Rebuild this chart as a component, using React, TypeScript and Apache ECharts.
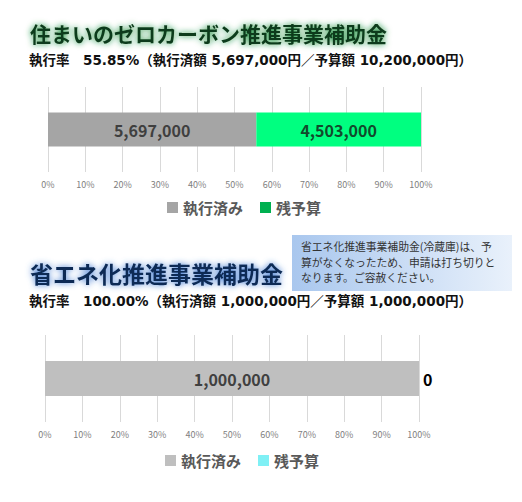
import React, { useEffect, useRef } from "react";
import * as echarts from "echarts";

// two subsidy programmes
const programNames = ["住まいのゼロカーボン推進事業補助金", "省エネ化推進事業補助金"];
const seriesNames = ["執行済み", "残予算"];
const executedAmounts = [5697000, 1000000];
const remainingAmounts = [4503000, 0];
const budgetAmounts = [10200000, 1000000];
const noteLines = [
  "省エネ化推進事業補助金(冷蔵庫)は、予",
  "算がなくなったため、申請は打ち切りと",
  "なります。ご容赦ください。",
];

const FONT = '"Noto Sans CJK JP", "Noto Sans", sans-serif';
const WIDE = '"DejaVu Sans", "Noto Sans CJK JP", sans-serif';
const fmt = (v: number) => v.toLocaleString("en-US");

const summary = (i: number) =>
  `執行率　${((executedAmounts[i] / budgetAmounts[i]) * 100).toFixed(2)}%（執行済額 ${fmt(
    executedAmounts[i]
  )}円／予算額 ${fmt(budgetAmounts[i])}円）`;

const App = () => {
  const chartRef = useRef<HTMLDivElement>(null);

  useEffect(() => {
    if (!chartRef.current) return;
    const chart = echarts.init(chartRef.current, null, { renderer: "svg" });

    const grids = [
      { left: 48, right: 101, top: 87, height: 85 },
      { left: 45, right: 103, top: 335, height: 87 },
    ];
    const barColors = [
      ["#a5a5a5", "#00ff80"],
      ["#bfbfbf", "#7ff0f5"],
    ];
    const legendColors = [
      ["#a5a5a5", "#00b050"],
      ["#bfbfbf", "#7ff0f5"],
    ];
    const labelColors = [
      ["#3f3f3f", "#124a2c"],
      ["#404040", "#000000"],
    ];

    const series: any[] = [];
    [0, 1].forEach((g) => {
      const raw = [executedAmounts[g], remainingAmounts[g]];
      raw.forEach((v, k) => {
        series.push({
          type: "bar",
          name: seriesNames[k],
          xAxisIndex: g,
          yAxisIndex: g,
          stack: "s" + g,
          barWidth: g === 0 ? 34 : 35,
          data: [v / budgetAmounts[g]],
          itemStyle: { color: barColors[g][k] },
          label: {
            show: true,
            position: v === 0 ? "right" : "inside",
            distance: 4,
            formatter: () => fmt(v),
            fontFamily: FONT,
            fontWeight: "bold",
            fontSize: 16,
            color: labelColors[g][k],
          },
        });
      });
    });

    chart.setOption({
      animation: false,
      grid: grids,
      xAxis: [0, 1].map((g) => ({
        type: "value",
        gridIndex: g,
        min: 0,
        max: 1,
        interval: 0.1,
        axisLine: { show: false },
        axisTick: { show: false },
        splitLine: { show: true, lineStyle: { color: "#d9d9d9", width: 1 } },
        axisLabel: {
          margin: 8,
          fontSize: 9,
          color: "#808080",
          fontFamily: FONT,
          formatter: (v: number) => Math.round(v * 100) + "%",
        },
      })),
      yAxis: [0, 1].map((g) => ({
        type: "category",
        gridIndex: g,
        data: [programNames[g]],
        show: false,
      })),
      legend: [0, 1].map((g) => ({
        left: g === 0 ? 162 : 160,
        top: g === 0 ? 195 : 448,
        itemWidth: 11,
        itemHeight: 11,
        itemGap: 17,
        icon: "rect",
        selectedMode: false,
        textStyle: { fontFamily: FONT, fontSize: 15, fontWeight: "bold", color: "#595959", padding: [0, 0, 0, 0] },
        data: seriesNames.map((n, k) => ({ name: n, itemStyle: { color: legendColors[g][k] } })),
      })),
      graphic: [
        {
          type: "text",
          left: 30,
          top: 22,
          style: {
            text: programNames[0],
            font: `bold 21px ${FONT}`,
            fill: "#0f3a1c",
            textShadowColor: "rgba(20,140,55,1)",
            textShadowBlur: 6,
          },
        },
        {
          type: "text",
          left: 29,
          top: 53,
          style: { text: summary(0), font: `bold 13.5px ${WIDE}`, fill: "#111" },
        },
        {
          type: "rect",
          shape: { x: 292, y: 235, width: 220, height: 56 },
          style: {
            fill: new echarts.graphic.LinearGradient(0, 0, 1, 0, [
              { offset: 0, color: "#a9c7ee" },
              { offset: 1, color: "#e9f1fb" },
            ]),
          },
        },
        {
          type: "text",
          x: 301,
          y: 238,
          style: {
            text: noteLines.join("\n"),
            font: `10.8px ${FONT}`,
            lineHeight: 15.7,
            fill: "#333",
          },
        },
        {
          type: "text",
          left: 30,
          top: 261,
          style: {
            text: programNames[1],
            font: `bold 23px ${FONT}`,
            fill: "#102c55",
            textShadowColor: "rgba(60,120,210,1)",
            textShadowBlur: 6,
          },
        },
        {
          type: "text",
          left: 29,
          top: 294,
          style: { text: summary(1), font: `bold 13.5px ${WIDE}`, fill: "#111" },
        },
      ],
      series,
    });

    return () => {
      chart.dispose();
    };
  }, []);

  return (
    <div
      ref={chartRef}
      style={{ position: "absolute", left: 0, top: 0, width: 522, height: 502, background: "#fff" }}
    />
  );
};

export default App;
